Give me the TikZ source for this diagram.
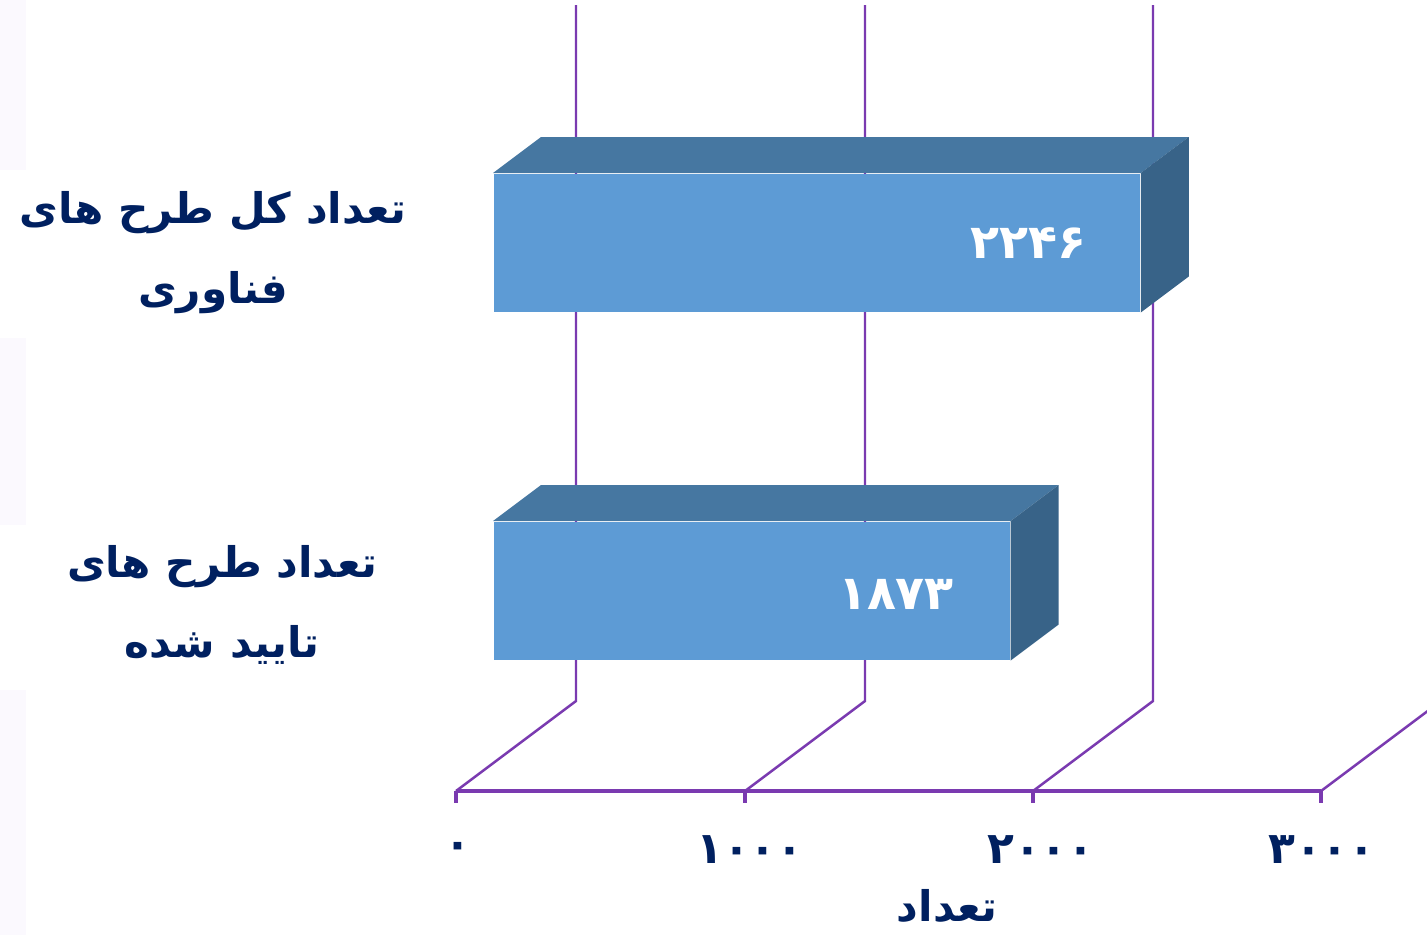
\documentclass[tikz,border=0pt]{standalone}
\usepackage{fontspec}
\newfontfamily\arabicfont[Script=Arabic]{DejaVu Sans}
\TeXXeTstate=1
\usetikzlibrary{positioning}
\definecolor{gridpurple}{RGB}{122,58,176}
\definecolor{labelblue}{RGB}{0,32,96}
\definecolor{barfront}{RGB}{93,155,213}
\definecolor{bartop}{RGB}{70,119,161}
\definecolor{barside}{RGB}{56,99,136}
\definecolor{stripe}{RGB}{251,249,254}

\begin{document}
\begin{tikzpicture}
[x=0.01cm,y=-0.01cm,
 grid/.style={draw=gridpurple,line width=0.7pt},
 axis/.style={draw=gridpurple,line width=1.3pt},
 front/.style={fill=barfront,draw=none,inner sep=0pt,anchor=north west,minimum height=1.38cm},
 val/.style={text=white,font=\arabicfont\bfseries\fontsize{13.5}{16}\selectfont,anchor=east,inner sep=0pt},
 tick/.style={text=labelblue,font=\arabicfont\bfseries\fontsize{12.5}{15}\selectfont},
 cat/.style={text=labelblue,font=\arabicfont\bfseries\fontsize{12}{22.8}\selectfont,align=center}]
\useasboundingbox (0,0) rectangle (1427,935);
\clip (0,0) rectangle (1427,935);
% pale stripes on the left edge
\foreach \top/\bot in {0/170,338/525,690/935}
\fill[stripe] (0,\top) rectangle (26,\bot);
% axis and grid
\foreach \i/\x in {0/456,1/745,2/1033,3/1321}{
\coordinate (t\i) at (\x,791);
\coordinate (b\i) at (\x+120,701);
\coordinate (g\i) at (\x+120,5);
\coordinate (d\i) at (\x,803);
}
\foreach \i in {0,...,3}
\draw[grid] (t\i) -- (b\i) -- (g\i);
\draw[axis] (t0) -- (t3);
\foreach \i in {0,...,3}
\draw[axis] (t\i) -- (d\i);
% bars
\node[front,minimum width=6.46cm] (bar1) at (493,173) {};
\node[front,minimum width=5.16cm] (bar2) at (493,521) {};
\foreach \b in {bar1,bar2}{
\fill[bartop] (\b.north west) -- ++(48,-36) -- ([shift={(48,-36)}]\b.north east) -- (\b.north east) -- cycle;
\fill[barside] (\b.north east) -- ++(48,-36) -- ([shift={(48,-36)}]\b.south east) -- (\b.south east) -- cycle;
}
\node[val] (v1) at ([xshift=-0.54cm]bar1.east) {۲۲۴۶};
\node[val] (v2) at ([xshift=-0.56cm,yshift=-0.04cm]bar2.east) {۱۸۷۳};
% labels
\foreach \i/\x/\n in {0/458/۰,1/750/۱۰۰۰,2/1041/۲۰۰۰,3/1322/۳۰۰۰}
\node[tick] (l\i) at (\x,850) {\n};
\node[cat] (title) at (947,906) {\beginR تعداد\endR};
\node[cat] (c1) at (213,253) {\beginR تعداد کل طرح های\endR\\\beginR فناوری\endR};
\node[cat] (c2) at (222,605) {\beginR تعداد طرح های\endR\\\beginR تایید شده\endR};
\end{tikzpicture}
\end{document}
